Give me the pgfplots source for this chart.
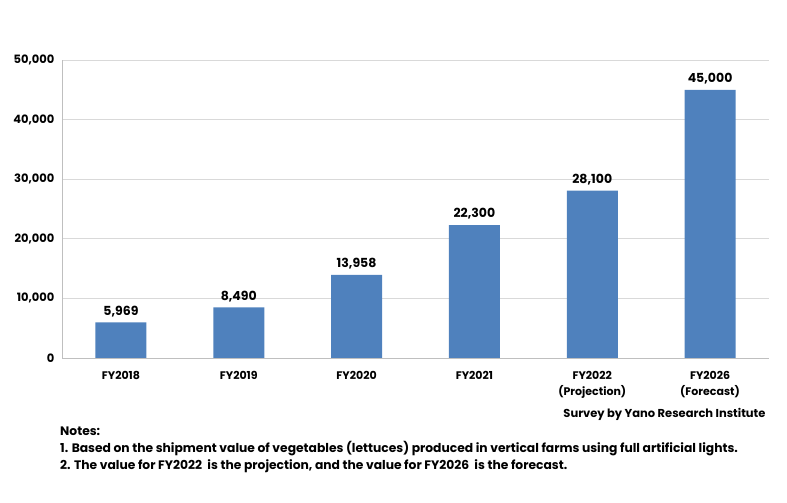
\documentclass[border=0pt]{standalone}
\usepackage{pgfplots}
\pgfplotsset{compat=1.18}
\usepackage{fontspec}
\setmainfont{Poppins}
\definecolor{barblue}{HTML}{4F81BD}
\definecolor{gridgray}{HTML}{D9D9D9}
\definecolor{axgray}{HTML}{BFBFBF}
\begin{document}
\begin{tikzpicture}[x=1pt,y=1pt]
\useasboundingbox (0,0) rectangle (787,503);
\begin{axis}[
  at={(62pt,145pt)}, anchor=south west,
  scale only axis, width=707pt, height=298pt,
  xmin=-0.5, xmax=5.5, ymin=0, ymax=50000,
  ytick={0,10000,...,50000},
  scaled y ticks=false,
  /pgf/number format/assume math mode=true,
  yticklabel style={/pgf/number format/1000 sep={,}, font=\bfseries\fontsize{11.5}{12}\selectfont, xshift=-4pt},
  ymajorgrids, grid style={gridgray, line width=0.8pt},
  axis x line*=bottom, axis y line*=left,
  axis line style={axgray, line width=0.8pt},
  ytick style={draw=none},
  xtick={0,...,5},
  xticklabels={FY2018,FY2019,FY2020,FY2021,{FY2022\\(Projection)},{FY2026\\(Forecast)}},
  xticklabel style={align=center, font=\bfseries\fontsize{11}{16}\selectfont, yshift=-5pt},
  major x tick style={draw=none},
  extra x ticks={-0.5,0.5,1.5,2.5,3.5,4.5,5.5},
  extra x tick labels={},
  extra x tick style={tick style={axgray, line width=0.8pt}, major tick length=5pt, tick align=outside},
  ybar, bar width=51pt,
  nodes near coords,
  nodes near coords style={font=\bfseries\fontsize{12.5}{14}\selectfont, /pgf/number format/1000 sep={,}, yshift=2pt},
  every node near coord/.append style={/pgf/number format/assume math mode=true},
  clip=false,
]
\addplot[fill=barblue, draw=none] coordinates {(0,5969) (1,8490) (2,13958) (3,22300) (4,28100) (5,45000)};
\end{axis}
\node[anchor=east, font=\bfseries\fontsize{11.5}{12}\selectfont] at (769,89) {Survey by Yano Research Institute};
\node[anchor=north west, align=left, font=\bfseries\fontsize{12.3}{17}\selectfont, inner sep=0pt] at (60,76) {Notes:\\1. Based on the shipment value of vegetables (lettuces) produced in vertical farms using full artificial lights.\\2. The value for FY2022\ \ is the projection, and the value for FY2026\ \ is the forecast.};
\end{tikzpicture}
\end{document}
